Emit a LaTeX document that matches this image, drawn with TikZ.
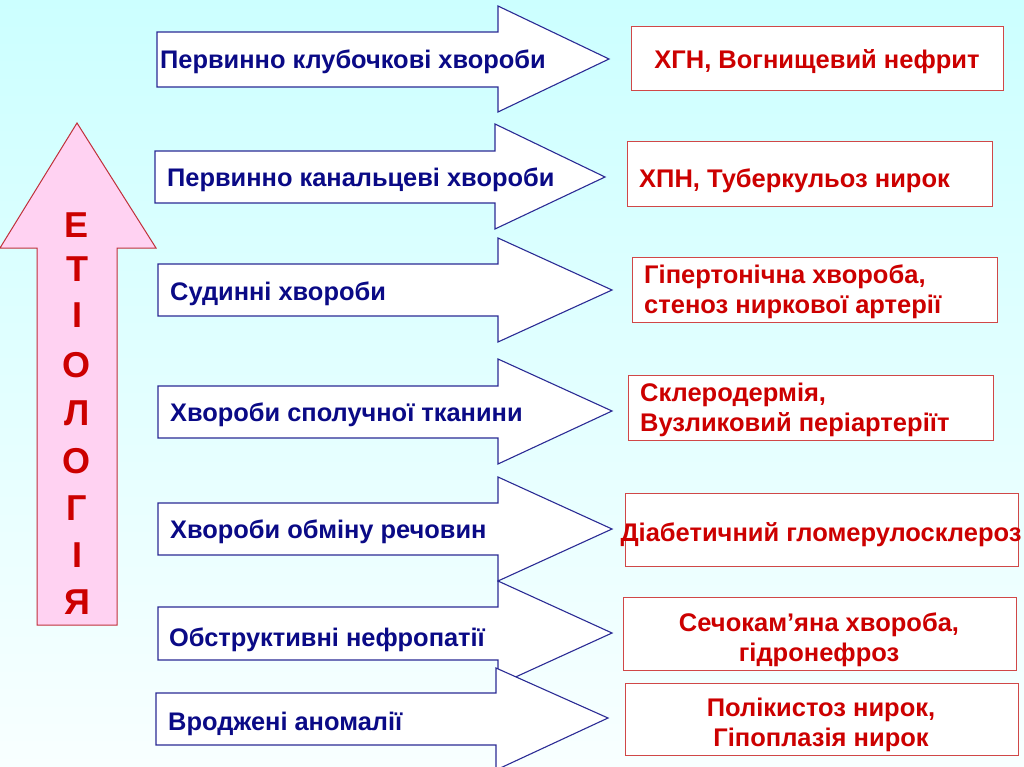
\documentclass[tikz,border=0pt]{standalone}
\usepackage{fontspec}
\setmainfont{Liberation Sans}
\definecolor{bgtop}{HTML}{CCFFFF}
\definecolor{bgbot}{HTML}{F8FFFF}
\definecolor{navytext}{HTML}{0A0A86}
\definecolor{navyline}{HTML}{2B2B94}
\definecolor{redtext}{HTML}{CC0000}
\definecolor{redline}{HTML}{D04848}
\definecolor{pinkfill}{HTML}{FFD2F2}
\definecolor{arrowred}{HTML}{C0303A}
\tikzset{
  bluearrowstyle/.style={fill=white,draw=navyline,line width=1.1pt,line join=miter},
  bluetext/.style={anchor=west,inner sep=0pt,text=navytext,font=\bfseries\fontsize{25.4}{30}\selectfont},
  redbox/.style={draw=redline,fill=white,line width=1pt,inner sep=0pt},
  redtext/.style={inner sep=0pt,text=redtext,font=\bfseries\fontsize{25.5}{30.5}\selectfont},
  letterstyle/.style={inner sep=0pt,text=redtext,font=\bfseries\fontsize{36}{36}\selectfont},
}
% #1 left x, #2 head base x, #3 tip x, #4 tip y, #5 body top, #6 body bottom, #7 head top, #8 head bottom
\newcommand\bluearrow[8]{%
  \path[bluearrowstyle] (#1,#5) -- (#2,#5) -- (#2,#7) -- (#3,#4) -- (#2,#8) -- (#2,#6) -- (#1,#6) -- cycle;}
\begin{document}
\begin{tikzpicture}[x=1pt,y=-1pt]
\useasboundingbox (0,0) rectangle (1024,767);
\shade[top color=bgtop,bottom color=bgbot] (0,0) rectangle (1024,767);
% big red arrow
\path[fill=pinkfill,draw=arrowred,line width=1pt] (77,123) -- (156,248) -- (117,248) -- (117,625) -- (37,625) -- (37,248) -- (0,248) -- cycle;
\node[letterstyle] (l1) at (77,225) {Е};
\node[letterstyle] (l2) at (77,269) {Т};
\node[letterstyle] (l3) at (77,315) {І};
\node[letterstyle] (l4) at (77,365) {О};
\node[letterstyle] (l5) at (77,413) {Л};
\node[letterstyle] (l6) at (77,461) {О};
\node[letterstyle] (l7) at (77,508) {Г};
\node[letterstyle] (l8) at (77,555) {І};
\node[letterstyle] (l9) at (77,602) {Я};
% blue arrows
\bluearrow{157}{498}{609}{59}{32}{87}{6}{112}
\node[bluetext] (a1) at (160,62) {Первинно клубочкові хвороби};
\bluearrow{155}{495}{605}{177}{151}{203}{124}{229}
\node[bluetext] (a2) at (167,180) {Первинно канальцеві хвороби};
\bluearrow{158}{498}{612}{290}{264}{316}{238}{342}
\node[bluetext] (a3) at (170,294) {Судинні хвороби};
\bluearrow{158}{498}{612}{411}{386}{438}{359}{464}
\node[bluetext] (a4) at (170,415) {Хвороби сполучної тканини};
\bluearrow{158}{498}{612}{529}{503}{555}{477}{581}
\node[bluetext] (a5) at (170,532) {Хвороби обміну речовин};
\bluearrow{158}{498}{612}{633}{607}{660}{581}{685}
\node[bluetext] (a6) at (169,640) {Обструктивні нефропатії};
\bluearrow{156}{496}{608}{718}{693}{745}{668}{770}
\node[bluetext] (a7) at (168,724) {Вроджені аномалії};
% red boxes
\node[redbox,minimum width=372pt,minimum height=64pt] (b1) at (817,59) {};
\node[redtext] (t1) at (817,61.5) {ХГН, Вогнищевий нефрит};
\node[redbox,minimum width=365pt,minimum height=65pt] (b2) at (809.5,174.5) {};
\node[redtext,anchor=west] (t2) at (639,181) {ХПН, Туберкульоз нирок};
\node[redbox,minimum width=365pt,minimum height=65pt] (b3) at (814.5,289.5) {};
\node[redtext,anchor=west,align=left] (t3) at (644,292) {Гіпертонічна хвороба,\\стеноз ниркової артерії};
\node[redbox,minimum width=365pt,minimum height=65pt] (b4) at (810.5,407.5) {};
\node[redtext,anchor=west,align=left] (t4) at (640,410) {Склеродермія,\\Вузликовий періартеріїт};
\node[redbox,minimum width=393pt,minimum height=73pt] (b5) at (821.5,529.5) {};
\node[redtext] (t5) at (821,535) {Діабетичний гломерулосклероз};
\node[redbox,minimum width=393pt,minimum height=73pt] (b6) at (819.5,633.5) {};
\node[redtext,align=center] (t6) at (819,640) {Сечокам’яна хвороба,\\гідронефроз};
\node[redbox,minimum width=393pt,minimum height=72pt] (b7) at (821.5,719) {};
\node[redtext,align=center] (t7) at (821,725) {Полікистоз нирок,\\Гіпоплазія нирок};
\end{tikzpicture}
\end{document}
